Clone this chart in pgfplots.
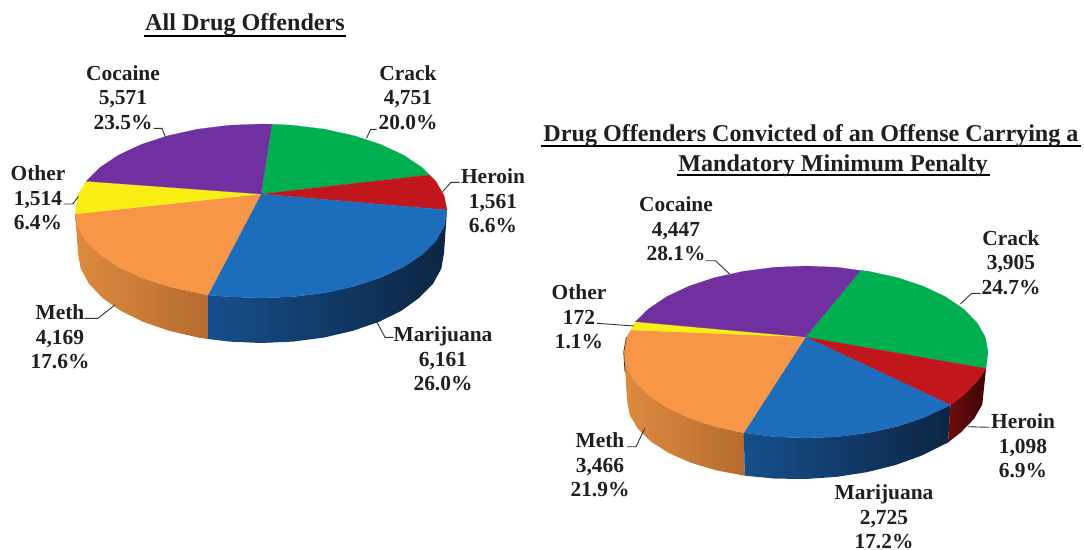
\documentclass[border=0pt]{standalone}
\usepackage{pgfplots}
\pgfplotsset{compat=1.18}
\usepackage{fontspec}
\setmainfont{Liberation Serif}
\definecolor{cCrack}{HTML}{00B050}
\definecolor{cHer}{HTML}{C0161C}
\definecolor{cMar}{HTML}{1C6DBB}
\definecolor{cMeth}{HTML}{F79646}
\definecolor{cOth}{HTML}{F8EE14}
\definecolor{cCoc}{HTML}{7030A0}
\definecolor{mL}{HTML}{164F8C}
\definecolor{mM}{HTML}{113C6E}
\definecolor{mR}{HTML}{0C2543}
\definecolor{oL}{HTML}{DE8A40}
\definecolor{oM}{HTML}{D58238}
\definecolor{oR}{HTML}{B56C2E}
\definecolor{hL}{HTML}{6E0C0C}
\definecolor{hR}{HTML}{3E0606}
\newcommand{\lab}[4]{\node[align=center,font=\fontsize{21.5}{24.6}\selectfont\bfseries,text=black!88,inner sep=0pt] at (axis cs:#1,#2) {#3\\#4};}
\begin{document}
\begin{tikzpicture}
\path[use as bounding box,clip] (0,0) rectangle (1084bp,550bp);
\begin{axis}[at={(0,0)},anchor=south west,width=1084bp,height=550bp,scale only axis,hide axis,
  xmin=0,xmax=1084,ymin=0,ymax=550,y dir=reverse,clip=false]
% ---- Pie 1 sides
\addplot[draw=none,left color=oL,middle color=oM,right color=oR] coordinates {
(75,211)(77.8,226.1)(86.2,240.8)(99.9,254.5)(118.5,266.9)(141.4,277.6)(168,286.3)(197.4,292.8)(208,295)
(208,339)(198.4,337.6)(169.5,330.9)(143.3,321.9)(120.8,310.9)(102.5,298)(89,283.8)(80.7,268.7)(78,253)} --cycle;
\addplot[draw=none,left color=mL,middle color=mM,right color=mR] coordinates {
(208,295)(228.7,296.7)(261,298)(293.3,296.7)(324.6,292.8)(354,286.3)(380.6,277.6)(403.5,266.9)(422.1,254.5)(435.8,240.8)(444.2,226.1)(447,210)
(444,253)(441.3,268.7)(433,283.8)(419,298)(401.2,310.9)(378.7,321.9)(352.5,330.9)(323.6,337.6)(292.8,341.6)(261,343)(229.2,341.6)(208,339)} --cycle;
% ---- Pie 1 top
\addplot[fill=cCrack,draw=cCrack,line width=.2pt] coordinates {
(261,194)(272,124.2)(293.3,125.3)(324.6,129.2)(354,135.7)(380.6,144.4)(403.5,155.1)(422.1,167.5)(429.6,175)} --cycle;
\addplot[fill=cHer,draw=cHer,line width=.2pt] coordinates {
(261,194)(429.6,175)(435.8,181.2)(444.2,195.9)(447,210)} --cycle;
\addplot[fill=cMar,draw=cMar,line width=.2pt] coordinates {
(261,194)(447,210)(444.2,226.1)(435.8,240.8)(422.1,254.5)(403.5,266.9)(380.6,277.6)(354,286.3)(324.6,292.8)(293.3,296.7)(261,298)(228.7,296.7)(208,295)} --cycle;
\addplot[fill=cMeth,draw=cMeth,line width=.2pt] coordinates {
(261,194)(208,295)(197.4,292.8)(168,286.3)(141.4,277.6)(118.5,266.9)(99.9,254.5)(86.2,240.8)(77.8,226.1)(75,214)} --cycle;
\addplot[fill=cOth,draw=cOth,line width=.2pt] coordinates {
(261,194)(75,214)(77.8,195.9)(86.2,181.2)} --cycle;
\addplot[fill=cCoc,draw=cCoc,line width=.2pt] coordinates {
(261,194)(86.2,181.2)(99.9,167.5)(118.5,155.1)(141.4,144.4)(168,135.7)(197.4,129.2)(228.7,125.3)(261,124)(272,124.2)} --cycle;
% ---- Pie 2 sides
\addplot[draw=none,left color=oL,middle color=oM,right color=oR] coordinates {
(624,352)(626.7,366.9)(635,381.4)(648.4,395)(666.6,407.3)(689,417.9)(715,426.5)(743.8,432.8)
(744.8,475.7)(716.5,470.4)(690.9,462.8)(668.9,453.1)(651,441.7)(637.8,428.7)(629.7,414.9)(627,400.4)} --cycle;
\addplot[draw=none,left color=mL,middle color=mM,right color=mR] coordinates {
(743.8,432.8)(774.4,436.7)(806,438)(837.6,436.7)(868.2,432.8)(897,426.5)(923,417.9)(950.5,405)
(948,442.5)(921.1,455.8)(895.5,465)(867.2,472.1)(837.1,476.8)(806,479)(774.9,478.6)(744.8,475.7)} --cycle;
\addplot[draw=none,left color=hL,right color=hR] coordinates {
(950.5,405)(963.6,395)(977,381.4)(986,368.5)
(982.3,404.3)(974.2,418.7)(961,432.3)(948,442.5)} --cycle;
% ---- Pie 2 top
\addplot[fill=cCrack,draw=cCrack,line width=.2pt] coordinates {
(805.6,337)(860.4,270.5)(868.2,271.2)(897,277.5)(923,286.1)(945.4,296.7)(963.6,309)(977,322.6)(985.3,337.1)(988,352)(986,368.5)} --cycle;
\addplot[fill=cHer,draw=cHer,line width=.2pt] coordinates {
(805.6,337)(986,368.5)(977,381.4)(963.6,395)(950.5,405)} --cycle;
\addplot[fill=cMar,draw=cMar,line width=.2pt] coordinates {
(805.6,337)(950.5,405)(923,417.9)(897,426.5)(868.2,432.8)(837.6,436.7)(806,438)(774.4,436.7)(743.8,432.8)} --cycle;
\addplot[fill=cMeth,draw=cMeth,line width=.2pt] coordinates {
(805.6,337)(743.8,432.8)(715,426.5)(689,417.9)(666.6,407.3)(648.4,395)(635,381.4)(626.7,366.9)(624,352)(626.7,337.1)(631,330)} --cycle;
\addplot[fill=cOth,draw=cOth,line width=.2pt] coordinates {
(805.6,337)(631,330)(635.5,321.7)} --cycle;
\addplot[fill=cCoc,draw=cCoc,line width=.2pt] coordinates {
(805.6,337)(635.5,321.7)(648.4,309)(666.6,296.7)(689,286.1)(715,277.5)(743.8,271.2)(774.4,267.3)(806,266)(837.6,267.3)(860.4,270.5)} --cycle;
% thin dark edge at the left of the second pie
\addplot[black!75,line width=.8pt] coordinates {(626.5,337)(623.7,352)(625,372)};
% ---- leader lines
\addplot[black!80,line width=.9pt] coordinates {(153.7,128.3)(162,128.3)(165.5,137.3)};
\addplot[black!80,line width=.9pt] coordinates {(366.5,138.3)(370.6,129.3)(376.7,129.3)};
\addplot[black!80,line width=.9pt] coordinates {(442.6,191.7)(451,182.3)(459.5,182.3)};
\addplot[black!80,line width=.9pt] coordinates {(63.5,204)(72.6,204)(78.4,196.7)};
\addplot[black!80,line width=.9pt] coordinates {(84.5,318.3)(98,318.3)(114.9,305)};
\addplot[black!80,line width=.9pt] coordinates {(376.7,321.7)(385,337.3)(393.6,337.3)};
\addplot[black!80,line width=.9pt] coordinates {(705.6,260.7)(715.5,260.7)(729.6,274)};
\addplot[black!80,line width=.9pt] coordinates {(960.4,304)(971.7,293.3)(980.5,293.3)};
\addplot[black!80,line width=.9pt] coordinates {(968,426.7)(989.4,427.3)};
\addplot[black!80,line width=.9pt] coordinates {(597,323.3)(634,326)};
\addplot[black!80,line width=.9pt] coordinates {(627.2,446.7)(636,446.7)(644.8,428.3)};
% ---- title underlines
\addplot[black,line width=1.5pt] coordinates {(144,36)(346,36)};
\addplot[black,line width=1.5pt] coordinates {(541,146)(1081,146)};
\addplot[black,line width=1.5pt] coordinates {(677,175)(990,175)};
% ---- titles
\node[font=\fontsize{24.2}{28}\selectfont\bfseries,text=black!88,inner sep=0pt] at (axis cs:245,25) {All Drug Offenders};
\node[font=\fontsize{24.2}{28}\selectfont\bfseries,text=black!88,inner sep=0pt] at (axis cs:811,136) {Drug Offenders Convicted of an Offense Carrying a};
\node[font=\fontsize{24.2}{28}\selectfont\bfseries,text=black!88,inner sep=0pt] at (axis cs:833,166) {Mandatory Minimum Penalty};
% ---- labels
\lab{123}{97.5}{Cocaine\\5,571}{23.5\%}
\lab{408}{97.5}{Crack\\4,751}{20.0\%}
\lab{493}{201}{Heroin\\1,561}{6.6\%}
\lab{38}{198}{Other\\1,514}{6.4\%}
\lab{60}{337}{Meth\\4,169}{17.6\%}
\lab{443}{359}{Marijuana\\6,161}{26.0\%}
\lab{676}{229}{Cocaine\\4,447}{28.1\%}
\lab{1011}{262.5}{Crack\\3,905}{24.7\%}
\lab{1023}{446}{Heroin\\1,098}{6.9\%}
\lab{884}{517}{Marijuana\\2,725}{17.2\%}
\lab{600}{465}{Meth\\3,466}{21.9\%}
\lab{579}{317}{Other\\172}{1.1\%}
\end{axis}
\end{tikzpicture}
\end{document}
